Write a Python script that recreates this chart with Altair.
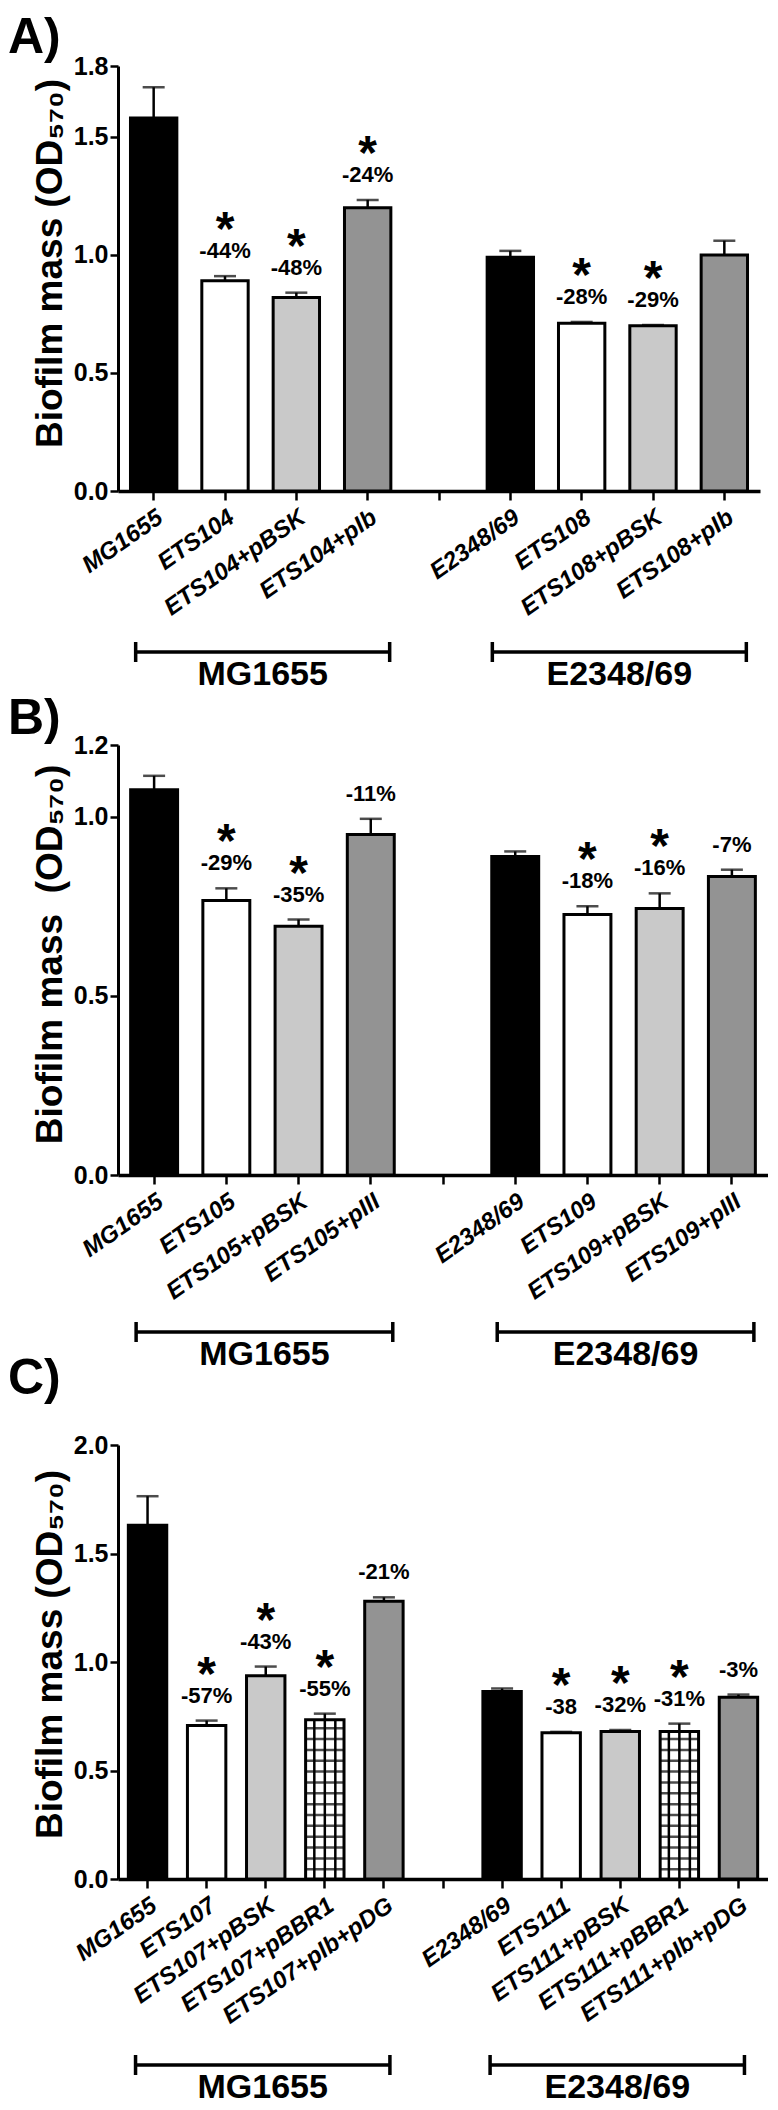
import altair as alt
import pandas as pd

FONT = "Liberation Sans, Arial, Helvetica, sans-serif"
BLACK, WHITE, LIGHT, DARK = "#000000", "#ffffff", "#c9c9c9", "#939393"

# ---------------- Panel A ----------------
a_cats = ["MG1655", "ETS104", "ETS104+pBSK", "ETS104+pIb", "gap",
          "E2348/69", "ETS108", "ETS108+pBSK", "ETS108+pIb"]
a_vals = [1.58, 0.89, 0.82, 1.20, None, 0.99, 0.71, 0.70, 1.00]
a_tops = [1.71, 0.91, 0.84, 1.233, None, 1.017, 0.716, 0.703, 1.06]
a_pct = ["", "-44%", "-48%", "-24%", "", "", "-28%", "-29%", ""]
a_star = ["", "*", "*", "*", "", "", "*", "*", ""]
a_fill = [BLACK, WHITE, LIGHT, DARK, None, BLACK, WHITE, LIGHT, DARK]
a_hatch = [False] * 9

# ---------------- Panel B ----------------
b_cats = ["MG1655", "ETS105", "ETS105+pBSK", "ETS105+pIII", "gap",
          "E2348/69", "ETS109", "ETS109+pBSK", "ETS109+pIII"]
b_vals = [1.075, 0.766, 0.694, 0.95, None, 0.889, 0.727, 0.744, 0.833]
b_tops = [1.114, 0.80, 0.713, 0.994, None, 0.903, 0.75, 0.786, 0.852]
b_pct = ["", "-29%", "-35%", "-11%", "", "", "-18%", "-16%", "-7%"]
b_star = ["", "*", "*", "", "", "", "*", "*", ""]
b_fill = [BLACK, WHITE, LIGHT, DARK, None, BLACK, WHITE, LIGHT, DARK]
b_hatch = [False] * 9

# ---------------- Panel C ----------------
c_cats = ["MG1655", "ETS107", "ETS107+pBSK", "ETS107+pBBR1", "ETS107+pIb+pDG", "gap",
          "E2348/69", "ETS111", "ETS111+pBSK", "ETS111+pBBR1", "ETS111+pIb+pDG"]
c_vals = [1.63, 0.707, 0.937, 0.734, 1.28, None, 0.864, 0.674, 0.68, 0.68, 0.837]
c_tops = [1.764, 0.73, 0.979, 0.762, 1.298, None, 0.878, 0.678, 0.687, 0.716, 0.85]
c_pct = ["", "-57%", "-43%", "-55%", "-21%", "", "", "-38", "-32%", "-31%", "-3%"]
c_star = ["", "*", "*", "*", "", "", "", "*", "*", "*", ""]
c_fill = [BLACK, WHITE, LIGHT, WHITE, DARK, None, BLACK, WHITE, LIGHT, WHITE, DARK]
c_hatch = [False, False, False, True, False, False, False, False, False, True, False]

group_names = ["MG1655", "E2348/69"]


def panel(letter, cats, vals, tops, pct, star, fill, hatch, ymax, yticks, width, height,
          title, title_y, letter_y, groups, bracket_dy, off_l, off_r, center_off):
    df = pd.DataFrame({"cat": cats, "value": vals, "top": tops, "pct": pct,
                       "star": star, "fill": fill, "hatch": hatch})
    df = df[df["cat"] != "gap"].reset_index(drop=True)

    xs = alt.Scale(domain=cats, paddingInner=0.35, paddingOuter=0.175)
    ys = alt.Scale(domain=[0, ymax], nice=False, zero=True)
    xaxis = alt.Axis(title=None, labelAngle=-35, labelAlign="right", labelBaseline="top",
                     labelFontSize=24, labelFontStyle="italic", labelFontWeight="bold",
                     labelPadding=5, tickSize=9, domainWidth=3.5, labelLimit=0,
                     labelOverlap=False,
                     labelExpr="datum.value == 'gap' ? '' : datum.value")
    yaxis = alt.Axis(title=title, values=yticks, format=".1f", labelFontSize=25,
                     labelFontWeight="bold", labelPadding=2, tickSize=8,
                     titleFontSize=37, titleFontWeight="bold", titlePadding=4,
                     titleY=title_y)

    def X(f="cat"):
        return alt.X(f"{f}:N", scale=xs, axis=xaxis, sort=cats, title=None)

    def Y(f="value"):
        return alt.Y(f"{f}:Q", scale=ys, axis=yaxis, title=title)

    bars = alt.Chart(df).mark_bar(stroke="black", strokeWidth=3).encode(
        x=X(), y=Y(), fill=alt.Fill("fill:N", scale=None))

    err = alt.Chart(df).mark_rule(strokeWidth=2.5, color="black").encode(
        x=X(), y=Y(), y2="top:Q")
    cap = alt.Chart(df).mark_tick(size=22, thickness=2.5, color="black").encode(
        x=X(), y=Y("top"))

    layers = [err, cap, bars]

    hdf = df[df["hatch"]]
    if len(hdf):
        for k in (-10.5, 0, 10.5):
            layers.append(alt.Chart(hdf).mark_rule(strokeWidth=2.5, color="black", xOffset=k)
                          .encode(x=X(), y=Y(), y2=alt.datum(0)))
        layers.append(
            alt.Chart(hdf).transform_calculate(lv="sequence(0.045, datum.value - 0.015, 0.05)")
            .transform_flatten(["lv"])
            .mark_tick(size=38, thickness=2.5, color="black")
            .encode(x=X(), y=Y("lv")))

    pdf = df[df["pct"] != ""]
    layers.append(alt.Chart(pdf).mark_text(fontSize=22, fontWeight="bold", dy=-18,
                                           baseline="alphabetic", color="black")
                  .encode(x=X(), y=Y("top"), text="pct:N"))
    sdf = df[df["star"] != ""]
    layers.append(alt.Chart(sdf).mark_text(fontSize=48, fontWeight="bold", dy=-31,
                                           baseline="alphabetic", color="black")
                  .encode(x=X(), y=Y("top"), text="star:N"))

    # group brackets
    gdf = pd.DataFrame({"name": group_names,
                        "cat": [g[0] for g in groups],
                        "cat2": [g[-1] for g in groups],
                        "mid": [g[1] for g in groups]})
    yb = height + bracket_dy
    layers.append(alt.Chart(gdf).mark_rule(strokeWidth=3.5, color="black",
                                           xOffset=off_l, x2Offset=off_r)
                  .encode(x=X(), x2="cat2:N", y=alt.value(yb)))
    layers.append(alt.Chart(gdf).mark_rule(strokeWidth=3.5, color="black", xOffset=off_l)
                  .encode(x=X(), y=alt.value(yb - 10), y2=alt.value(yb + 10)))
    layers.append(alt.Chart(gdf).mark_rule(strokeWidth=3.5, color="black", xOffset=off_r)
                  .encode(x=X("cat2"), y=alt.value(yb - 10), y2=alt.value(yb + 10)))
    layers.append(alt.Chart(gdf).mark_text(fontSize=34, fontWeight="bold", color="black",
                                           baseline="alphabetic", xOffset=center_off)
                  .encode(x=X("mid"), y=alt.value(yb + 33), text="name:N"))
    # panel letter
    layers.append(alt.Chart(pd.DataFrame({"t": [letter]})).mark_text(
        fontSize=50, fontWeight="bold", align="left", baseline="alphabetic", color="black")
        .encode(x=alt.value(-110), y=alt.value(letter_y), text="t:N"))

    return alt.layer(*layers).properties(width=width, height=height)


TITLE = "Biofilm mass (OD\u2085\u2087\u2080)"
TITLE_B = "Biofilm mass \u00a0(OD\u2085\u2087\u2080)"

stepA = 642 / 9
pA = panel("A)", a_cats, a_vals, a_tops, a_pct, a_star, a_fill, a_hatch, 1.8,
           [0, 0.5, 1.0, 1.5, 1.8], 642, 425, TITLE, 197, -13,
           [a_cats[0:4], a_cats[5:9]], 161, -18, 22, stepA / 2 + 2)
stepB = 650 / 9
pB = panel("B)", b_cats, b_vals, b_tops, b_pct, b_star, b_fill, b_hatch, 1.2,
           [0, 0.5, 1.0, 1.2], 650, 430, TITLE_B, 209, -11,
           [b_cats[0:4], b_cats[5:9]], 157, -18, 22, stepB / 2 + 2)
pC = panel("C)", c_cats, c_vals, c_tops, c_pct, c_star, c_fill, c_hatch, 2.0,
           [0, 0.5, 1.0, 1.5, 2.0], 650, 434, TITLE, 209, -51,
           [[c_cats[0], c_cats[2], c_cats[4]], [c_cats[6], c_cats[8], c_cats[10]]],
           186, -12, 6, -3)

chart = alt.vconcat(
    pA,
    alt.vconcat(pB, pC, spacing=270, bounds="flush"),
    spacing=254, bounds="flush"
).properties(padding={"left": 0, "top": 5, "right": 0, "bottom": 0}).configure_view(
    stroke=None).configure_axis(
    domainColor="black", tickColor="black", tickWidth=2.5, domainWidth=3,
    labelColor="black", titleColor="black", labelFont=FONT, titleFont=FONT, grid=False
).configure_text(font=FONT)

chart.save("out.html", embed_options={"renderer": "svg", "actions": False})
